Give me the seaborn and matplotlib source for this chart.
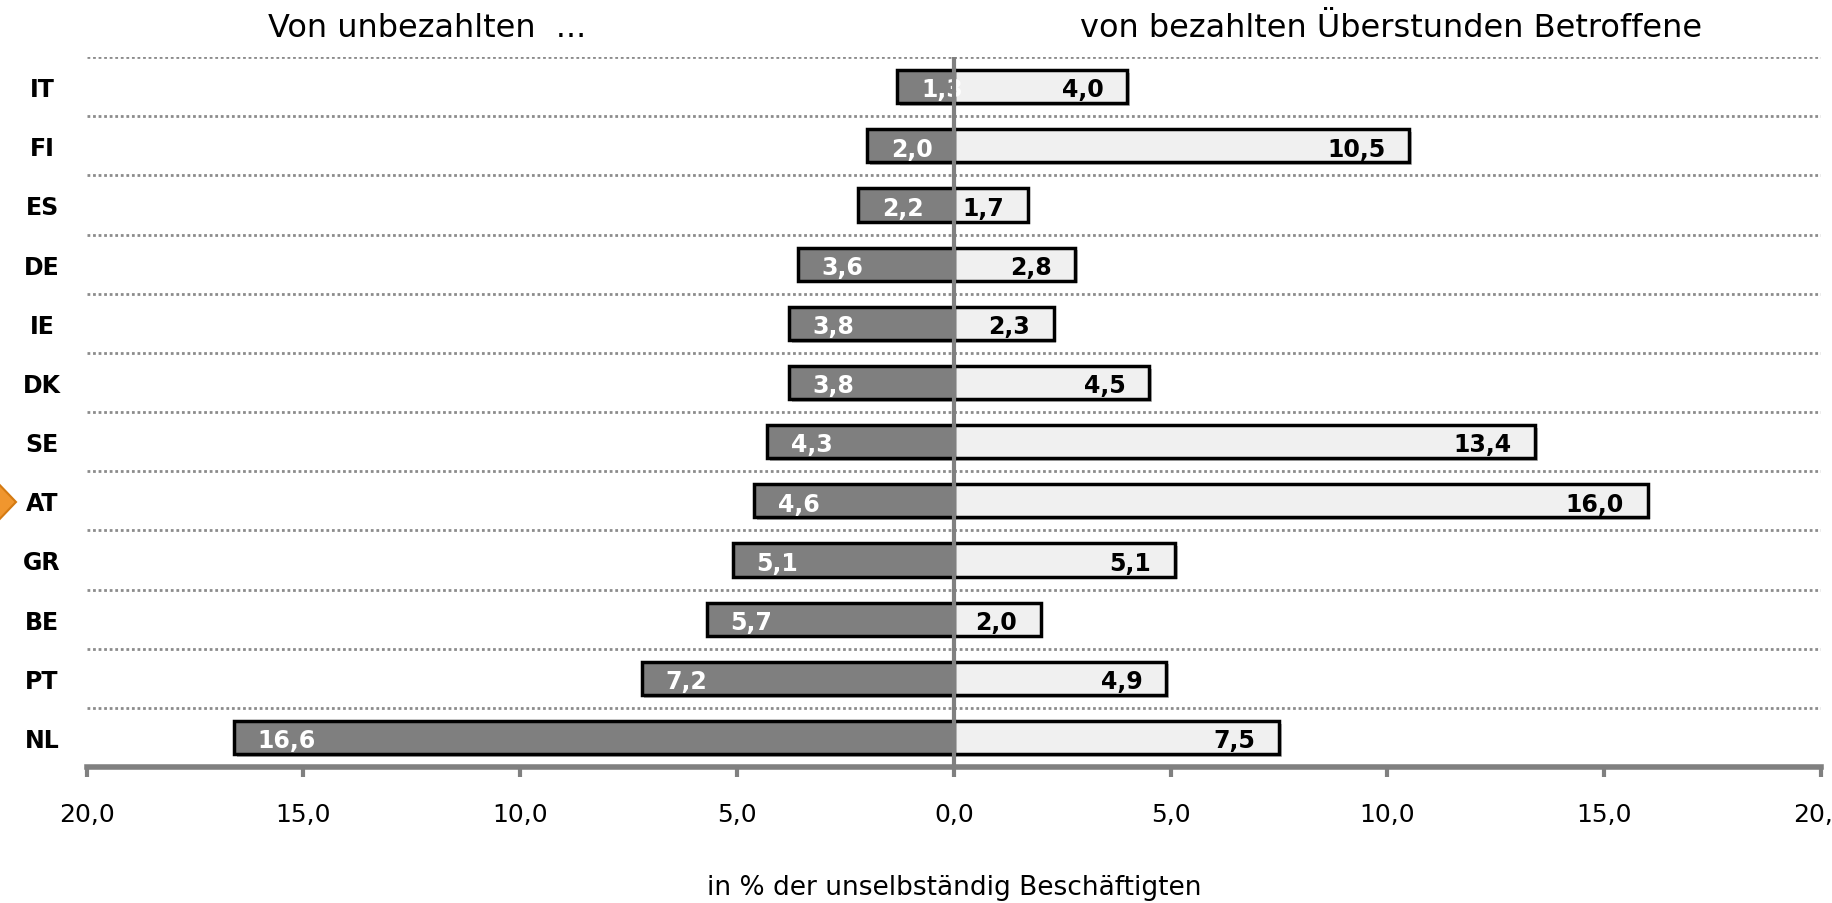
import pandas as pd
import matplotlib
matplotlib.use("Agg")
import matplotlib.pyplot as plt
import matplotlib.patheffects as pe
from matplotlib.patches import Polygon
import seaborn as sns

# data, top to bottom as in the chart
countries = ["IT", "FI", "ES", "DE", "IE", "DK", "SE", "AT", "GR", "BE", "PT", "NL"]
unpaid = [1.3, 2.0, 2.2, 3.6, 3.8, 3.8, 4.3, 4.6, 5.1, 5.7, 7.2, 16.6]
paid = [4.0, 10.5, 1.7, 2.8, 2.3, 4.5, 13.4, 16.0, 5.1, 2.0, 4.9, 7.5]
tick_vals = [-20, -15, -10, -5, 0, 5, 10, 15, 20]
tick_labels = ["20,0", "15,0", "10,0", "5,0", "0,0", "5,0", "10,0", "15,0", "20,0"]

df = pd.DataFrame({"country": countries,
                   "unpaid": [-v for v in unpaid],
                   "paid": paid})

sns.set_theme(style="white")
plt.rcParams["font.family"] = ["DejaVu Sans"]
plt.rcParams["text.color"] = "black"
plt.rcParams["xtick.labelcolor"] = "black"
plt.rcParams["ytick.labelcolor"] = "black"

GREY = "#808080"
DARK = "#7f7f7f"
LIGHT = "#f0f0f0"

fig = plt.figure(figsize=(18.33, 9.04), dpi=100)
ax = fig.add_axes([0.0472, 0.1504, 0.9463, 0.7854])

shadow = [pe.SimplePatchShadow(offset=(2, -2), alpha=0.35), pe.Normal()]
sns.barplot(data=df, x="unpaid", y="country", order=countries, color=DARK,
            edgecolor="black", linewidth=2.5, width=0.56, saturation=1, ax=ax)
sns.barplot(data=df, x="paid", y="country", order=countries, color=LIGHT,
            edgecolor="black", linewidth=2.5, width=0.56, saturation=1, ax=ax)
for p in ax.patches:
    p.set_path_effects(shadow)

# value labels
for i, (u, pv) in enumerate(zip(unpaid, paid)):
    ax.annotate(f"{u:.1f}".replace(".", ","), xy=(-u, i), xytext=(17, -2),
                textcoords="offset points", ha="left", va="center",
                color="white", fontsize=17, fontweight="bold", zorder=5)
    ax.annotate(f"{pv:.1f}".replace(".", ","), xy=(pv, i), xytext=(-17, -2),
                textcoords="offset points", ha="right", va="center",
                color="black", fontsize=17, fontweight="bold", zorder=5)

# dotted row separators
for k in range(len(countries)):
    ax.axhline(k - 0.5, color="#8c8c8c", lw=2, ls=(0, (1, 1)), zorder=0)

ax.axvline(0, color=GREY, lw=3, zorder=6)

ax.set_xlim(-20, 20)
ax.set_ylim(len(countries) - 0.5, -0.5)
ax.set_xticks(tick_vals)
ax.set_xticklabels(tick_labels)
ax.set_xlabel("")
ax.set_ylabel("")

for s in ["top", "right", "left"]:
    ax.spines[s].set_visible(False)
ax.spines["bottom"].set_color(GREY)
ax.spines["bottom"].set_linewidth(4)
ax.tick_params(axis="x", bottom=True, direction="out", length=7, width=3,
               color=GREY, pad=18, labelsize=18, labelcolor="black")
ax.tick_params(axis="y", left=False, pad=26, labelsize=17, labelcolor="black")
for t in ax.get_yticklabels():
    t.set_ha("center")
    t.set_fontweight("bold")

fig.text(0.233, 0.968, "Von unbezahlten  ...", ha="center", va="center", fontsize=23)
fig.text(0.759, 0.968, "von bezahlten Überstunden Betroffene", ha="center", va="center", fontsize=23)
fig.text(0.5205, 0.018, "in % der unselbständig Beschäftigten", ha="center", va="center", fontsize=19)

# orange marker next to AT
arrow = Polygon([[-6 / 1833, 1 - 480 / 904], [16 / 1833, 1 - 503 / 904], [-6 / 1833, 1 - 526 / 904]],
                closed=True, transform=fig.transFigure, facecolor="#f0962e",
                edgecolor="#d47a12", lw=1.5)
fig.patches.append(arrow)

fig.savefig("out.png", dpi=100)
